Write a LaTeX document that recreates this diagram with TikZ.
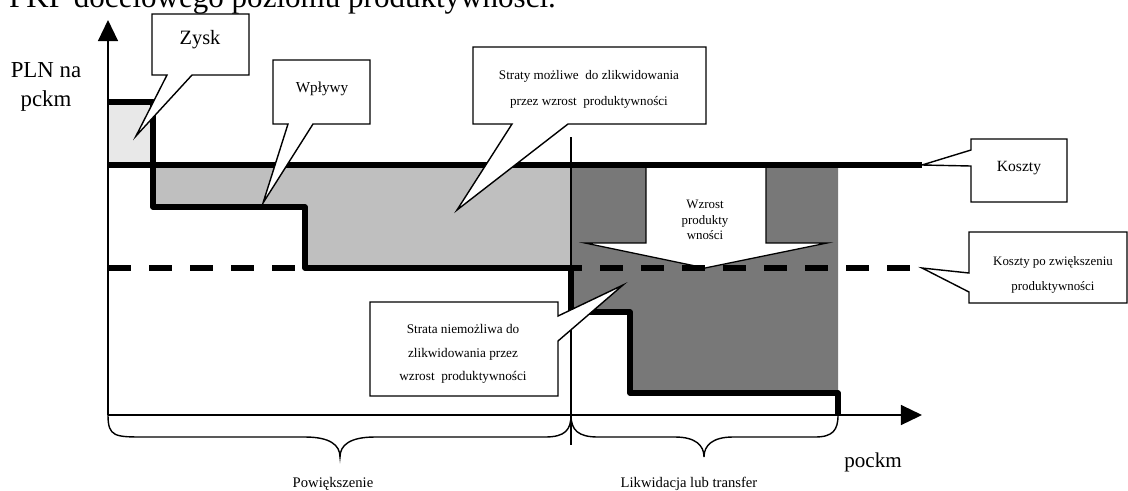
\documentclass[tikz,border=0pt]{standalone}
\usepackage{fontspec}
\setmainfont{Liberation Serif}
\usetikzlibrary{arrows.meta}
\definecolor{profitfill}{gray}{0.91}
\definecolor{lossfill}{gray}{0.75}
\definecolor{closefill}{gray}{0.47}
\tikzset{
  thickline/.style={line width=4.5pt, line join=round},
  thinline/.style={line width=1.1pt},
  axisline/.style={line width=1.5pt, -{Triangle[length=18pt,width=17pt]}},
  bracepath/.style={line width=1.2pt},
  callout/.style={draw, fill=white, line width=1.2pt, line join=miter},
  lbl/.style={inner sep=0pt, text=black, align=center},
}
\begin{document}
\begin{tikzpicture}[x=0.03cm,y=-0.03cm]
\useasboundingbox (0,0) rectangle (1128,490);
\clip (0,0) rectangle (1128,490);

% heading line running over the top of the figure
\node[lbl, anchor=base west, font=\fontsize{26.5}{30}\selectfont] (head) at (9,7) {PKP docelowego poziomu produktywności.};

% key points of the chart
\coordinate (O) at (108,415);
\coordinate (ytop) at (108,20);
\coordinate (xend) at (922,415);
\coordinate (cost end) at (922,165);
\coordinate (newcost end) at (922,268);

% shaded areas
\fill[profitfill] (108,102) rectangle (153,165);
\fill[lossfill] (153,165) -- (571,165) -- (571,268) -- (305,268) -- (305,207) -- (153,207) -- cycle;
\fill[closefill] (571,165) -- (838,165) -- (838,393) -- (630,393) -- (630,312) -- (571,312) -- cycle;

% productivity growth arrow
\fill[white] (646,167) -- (646,243) -- (585,243) -- (705,268) -- (827,243) -- (766,243) -- (766,167) -- cycle;
\draw[thinline] (646,167) -- (646,243) -- (585,243) -- (705,268) -- (827,243) -- (766,243) -- (766,167);
\node[lbl, font=\fontsize{11}{13.2}\selectfont] (growth) at (705,220) {Wzrost\\produkty\\wności};

% divider between the two groups
\draw[thinline] (571,137) -- (571,445);

% axes
\draw[axisline] (O) -- (ytop);
\draw[axisline] (O) -- (xend);

% braces under the horizontal axis
\draw[bracepath] (O) .. controls (108,437) and (115,437) .. (145,437) -- (305,437)
  .. controls (330,437) and (340,445) .. (340,457)
  .. controls (340,445) and (350,437) .. (375,437) -- (545,437)
  .. controls (565,437) and (571,430) .. (571,415);
\draw[bracepath] (571,415) .. controls (571,430) and (578,437) .. (598,437) -- (675,437)
  .. controls (695,437) and (704,445) .. (704,457)
  .. controls (704,445) and (713,437) .. (733,437) -- (815,437)
  .. controls (833,437) and (838,430) .. (838,415);

% cost levels
\draw[thickline] (108,165) -- (cost end);
\draw[thickline, dash pattern=on 19.5pt off 15.5pt] (108,268) -- (newcost end);

% revenue steps
\draw[thickline] (108,102) -- (153,102) -- (153,207) -- (305,207) -- (305,268) -- (571,268)
  -- (571,312) -- (630,312) -- (630,393) -- (838,393) -- (838,415);

% callouts
\draw[callout] (152,14) -- (249,14) -- (249,75) -- (192,75) -- (136,136) -- (167,75) -- (152,75) -- cycle;
\node[lbl, font=\fontsize{17.4}{20}\selectfont] (zysk) at (200,40) {Zysk};

\draw[callout] (273,60) -- (370,60) -- (370,124) -- (313,124) -- (263,203) -- (288,124) -- (273,124) -- cycle;
\node[lbl, font=\fontsize{13}{15}\selectfont] (wplywy) at (322,89) {Wpływy};

\draw[callout] (473,47) -- (706,47) -- (706,124) -- (568,124) -- (457,210) -- (512,124) -- (473,124) -- cycle;
\node[lbl, font=\fontsize{11.2}{22}\selectfont] (straty) at (589,89) {Straty możliwe\ \ do zlikwidowania\\przez wzrost\ \ produktywności};

\draw[callout] (971,139) -- (1067,139) -- (1067,202) -- (971,202) -- (971,166) -- (cost end) -- (971,150) -- cycle;
\node[lbl, font=\fontsize{13.3}{15}\selectfont] (koszty) at (1019,168) {Koszty};

\draw[callout] (969,232) -- (1127,232) -- (1127,303) -- (969,303) -- (969,292) -- (newcost end) -- (969,273) -- cycle;
\node[lbl, font=\fontsize{11}{22}\selectfont] (kosztypo) at (1053,275) {Koszty po zwiększeniu\\produktywności};

\draw[callout] (370,302) -- (558,302) -- (558,316) -- (623,285) -- (558,341) -- (558,396) -- (370,396) -- cycle;
\node[lbl, font=\fontsize{11.3}{20}\selectfont] (strata) at (463,354) {Strata niemożliwa do\\zlikwidowania przez\\wzrost\ \ produktywności};

% axis titles and group labels
\node[lbl, font=\fontsize{19.5}{25.5}\selectfont] (ylabel) at (46,87) {PLN na\\pckm};
\node[lbl, anchor=base, font=\fontsize{18}{20}\selectfont] (xlabel) at (873,467) {pockm};
\node[lbl, anchor=base, font=\fontsize{12.5}{15}\selectfont] (grow) at (333,487) {Powiększenie};
\node[lbl, anchor=base, font=\fontsize{12.5}{15}\selectfont] (close) at (689,487) {Likwidacja lub transfer};
\end{tikzpicture}
\end{document}
